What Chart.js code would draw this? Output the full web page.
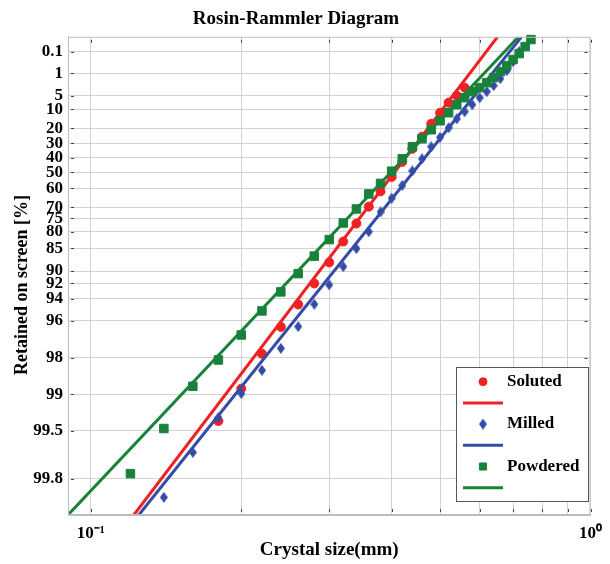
<!DOCTYPE html>
<html>
<head>
<meta charset="utf-8">
<title>Rosin-Rammler Diagram</title>
<script src="https://cdn.jsdelivr.net/npm/chart.js@4.4.1/dist/chart.umd.min.js"></script>
<style>
    html, body { margin: 0; padding: 0; background: #fff; }
    #wrap { width: 610px; height: 564px; }
</style>
</head>
<body>
<div id="wrap"><canvas id="chart-rr"></canvas></div>
<script>
// crystal size (mm) and retained on screen (%)
var solutedSize = [0.18, 0.20, 0.22, 0.24, 0.26, 0.28, 0.30, 0.32, 0.34, 0.36,
    0.38, 0.40, 0.42, 0.44, 0.46, 0.48, 0.50, 0.52, 0.54, 0.56];
var solutedRetained = [99.40, 98.89, 97.85, 96.44, 94.59, 92.03, 88.32, 83.12, 77.04, 69.77,
    61.79, 52.99, 42.90, 33.77, 25.51, 17.34, 11.51, 7.28, 5.00, 3.05];

var milledSize = [0.14, 0.16, 0.18, 0.20, 0.22, 0.24, 0.26, 0.28, 0.30, 0.32,
    0.34, 0.36, 0.38, 0.40, 0.42, 0.44, 0.46, 0.48, 0.50, 0.52,
    0.54, 0.56, 0.58, 0.60, 0.62, 0.64, 0.66, 0.68, 0.70, 0.72];
var milledRetained = [99.86, 99.67, 99.36, 98.99, 98.43, 97.62, 96.42, 94.56, 92.23, 89.18,
    85.07, 80.00, 72.23, 65.53, 58.27, 49.04, 40.79, 32.35, 25.86, 19.74,
    14.56, 11.04, 8.05, 5.61, 3.95, 2.66, 1.59, 0.797, 0.322, 0.096];

var powderedSize = [0.12, 0.14, 0.16, 0.18, 0.20, 0.22, 0.24, 0.26, 0.28, 0.30,
    0.32, 0.34, 0.36, 0.38, 0.40, 0.42, 0.44, 0.46, 0.48, 0.50,
    0.52, 0.54, 0.56, 0.58, 0.60, 0.62, 0.64, 0.66, 0.68, 0.70,
    0.72, 0.74, 0.76];
var powderedRetained = [99.78, 99.48, 98.84, 98.09, 96.94, 95.20, 93.17, 90.46, 86.94, 82.53,
    76.84, 70.86, 63.20, 57.06, 49.25, 40.79, 32.35, 26.84, 20.97, 15.65,
    11.51, 8.05, 5.61, 3.95, 3.05, 2.15, 1.46, 0.874, 0.491, 0.256,
    0.125, 0.048, 0.016];

// fitted Rosin-Rammler lines (end points)
var solutedFitSize = [0.1219, 0.6516];
var solutedFitRetained = [99.9, 0.01];
var milledFitSize = [0.1247, 0.7278];
var milledFitRetained = [99.9, 0.01];
var powderedFitSize = [0.09, 0.7178];
var powderedFitRetained = [99.9, 0.01];

var retainedTicks = [0.1, 1, 5, 10, 20, 30, 40, 50, 60, 70, 75, 80, 85, 90, 92, 94, 96, 98, 99, 99.5, 99.8];
var sizeTicks = [0.1, 0.2, 0.3, 0.4, 0.5, 0.6, 0.7, 0.8, 0.9, 1];
var sizeTickLabels = ['10\u207B\u00B9', '', '', '', '', '', '', '', '', '10\u2070'];
var retainedRange = [99.9, 0.01];
var sizeRange = [0.09, 1];

(function() {
    var serif = "'Liberation Serif', 'Times New Roman', serif";
    var red = 'rgb(238, 34, 36)';
    var blue = 'rgb(52, 76, 168)';
    var green = 'rgb(24, 130, 58)';
    var gridColor = '#d2d2d2';
    var frameColor = '#bdbdbd';

    // y axis is ln(ln(100/R))
    function rr(r) {
        return Math.log(Math.log(100 / r));
    }

    function points(sizes, retained) {
        return sizes.map(function(s, i) { return { x: s, y: rr(retained[i]) }; });
    }

    function diamond(w, h, color) {
        var c = document.createElement('canvas');
        c.width = w;
        c.height = h;
        var g = c.getContext('2d');
        g.fillStyle = color;
        g.beginPath();
        g.moveTo(w / 2, 0);
        g.lineTo(w, h / 2);
        g.lineTo(w / 2, h);
        g.lineTo(0, h / 2);
        g.closePath();
        g.fill();
        return c;
    }

    function markerSet(label, sizes, retained, color, style, radius) {
        return {
            label: label,
            data: points(sizes, retained),
            pointStyle: style,
            pointRadius: radius,
            pointBackgroundColor: color,
            pointBorderColor: color,
            pointBorderWidth: 1,
            showLine: false,
            clip: false
        };
    }

    function fitSet(sizes, retained, color) {
        return {
            label: '',
            data: points(sizes, retained),
            showLine: true,
            borderColor: color,
            borderWidth: 3,
            pointRadius: 0,
            fill: false
        };
    }

    var datasets = [
        markerSet('Soluted', solutedSize, solutedRetained, red, 'circle', 4.5),
        fitSet(solutedFitSize, solutedFitRetained, red),
        markerSet('Milled', milledSize, milledRetained, blue, diamond(8, 11, blue), 5),
        fitSet(milledFitSize, milledFitRetained, blue),
        markerSet('Powdered', powderedSize, powderedRetained, green, 'rect', 6),
        fitSet(powderedFitSize, powderedFitRetained, green)
    ];
    datasets.forEach(function(ds, i) { ds.order = datasets.length - i; ds.borderColor = ds.borderColor || ds.pointBorderColor; });

    function retainedLabel(v) {
        for (var i = 0; i < retainedTicks.length; i++) {
            if (Math.abs(rr(retainedTicks[i]) - v) < 1e-6) {
                return String(retainedTicks[i]);
            }
        }
        return '';
    }

    // short inner tick marks and the closed box around the plot
    var frame = {
        id: 'frame',
        afterDraw: function(chart) {
            var a = chart.chartArea;
            var ctx = chart.ctx;
            ctx.save();
            ctx.strokeStyle = frameColor;
            ctx.lineWidth = 1;
            ctx.strokeRect(a.left + 0.5, a.top + 0.5, a.right - a.left - 1, a.bottom - a.top - 1);
            ctx.strokeStyle = '#444';
            chart.scales.y.ticks.forEach(function(t) {
                var py = Math.round(chart.scales.y.getPixelForValue(t.value)) + 0.5;
                ctx.beginPath();
                ctx.moveTo(a.left + 3, py); ctx.lineTo(a.left + 6, py);
                ctx.moveTo(a.right - 6, py); ctx.lineTo(a.right - 3, py);
                ctx.stroke();
            });
            chart.scales.x.ticks.forEach(function(t) {
                var px = Math.round(chart.scales.x.getPixelForValue(t.value)) + 0.5;
                ctx.beginPath();
                ctx.moveTo(px, a.bottom - 6); ctx.lineTo(px, a.bottom - 3);
                ctx.moveTo(px, a.top + 3); ctx.lineTo(px, a.top + 6);
                ctx.stroke();
            });
            ctx.restore();
        }
    };

    var yTitle = {
        id: 'yTitle',
        afterDraw: function(chart) {
            var ctx = chart.ctx;
            ctx.save();
            ctx.translate(22, 285);
            ctx.rotate(-Math.PI / 2);
            ctx.font = 'bold 18px ' + serif;
            ctx.fillStyle = '#000';
            ctx.textAlign = 'center';
            ctx.textBaseline = 'middle';
            ctx.fillText('Retained on screen [%]', 0, 0);
            ctx.restore();
        }
    };

    var boxLegend = {
        id: 'boxLegend',
        afterDraw: function(chart) {
            var ctx = chart.ctx;
            var left = 456, top = 367, right = 588, bottom = 501;
            ctx.save();
            ctx.fillStyle = '#fff';
            ctx.fillRect(left, top, right - left, bottom - top);
            ctx.strokeStyle = '#555';
            ctx.lineWidth = 1;
            ctx.strokeRect(left + 0.5, top + 0.5, right - left, bottom - top);
            ctx.font = 'bold 17px ' + serif;
            ctx.textBaseline = 'middle';
            ctx.textAlign = 'left';
            chart.data.datasets.forEach(function(ds, i) {
                var y = top + 14.7 + i * 21.2;
                if (ds.showLine) {
                    ctx.strokeStyle = ds.borderColor;
                    ctx.lineWidth = 3;
                    ctx.beginPath();
                    ctx.moveTo(463, y);
                    ctx.lineTo(503, y);
                    ctx.stroke();
                } else {
                    ctx.fillStyle = ds.pointBackgroundColor;
                    ctx.strokeStyle = ds.pointBackgroundColor;
                    ctx.lineWidth = 1;
                    Chart.helpers.drawPoint(ctx, {
                        pointStyle: ds.pointStyle,
                        radius: ds.pointStyle === 'rect' ? 5 : 4,
                        rotation: 0,
                        borderWidth: 1
                    }, 483, y);
                    ctx.fillStyle = '#000';
                    ctx.fillText(ds.label, 507, y);
                }
            });
            ctx.restore();
        }
    };

    document.addEventListener('DOMContentLoaded', function() {
        Chart.defaults.font.family = serif;
        Chart.defaults.color = '#000';

        new Chart(document.getElementById('chart-rr').getContext('2d'), {
            type: 'scatter',
            data: { datasets: datasets },
            plugins: [frame, yTitle, boxLegend],
            options: {
                responsive: true,
                maintainAspectRatio: false,
                animation: false,
                events: [],
                layout: { padding: { left: 0, right: 18, top: 0, bottom: 0 } },
                plugins: {
                    legend: { display: false },
                    tooltip: { enabled: false },
                    title: {
                        display: true,
                        text: 'Rosin-Rammler Diagram',
                        color: '#000',
                        font: { size: 19, weight: 'bold' },
                        padding: { top: 8, bottom: 6 }
                    }
                },
                scales: {
                    x: {
                        type: 'logarithmic',
                        min: sizeRange[0],
                        max: sizeRange[1],
                        afterFit: function(s) { s.height = 49; },
                        afterBuildTicks: function(s) {
                            s.ticks = sizeTicks.map(function(v) { return { value: v }; });
                        },
                        ticks: {
                            autoSkip: false,
                            maxRotation: 0,
                            padding: 8,
                            font: { size: 17, weight: 'bold' },
                            callback: function(v) {
                                var i = sizeTicks.indexOf(v);
                                return i >= 0 ? sizeTickLabels[i] : '';
                            }
                        },
                        grid: { color: gridColor, drawTicks: false },
                        border: { color: frameColor },
                        title: {
                            display: true,
                            text: 'Crystal size(mm)',
                            font: { size: 19, weight: 'bold' },
                            padding: { top: 0, bottom: 3 }
                        }
                    },
                    y: {
                        type: 'linear',
                        min: rr(retainedRange[0]),
                        max: rr(retainedRange[1]),
                        afterFit: function(s) { s.width = 68; },
                        afterBuildTicks: function(s) {
                            s.ticks = retainedTicks.slice().reverse().map(function(r) { return { value: rr(r) }; });
                        },
                        ticks: {
                            autoSkip: false,
                            padding: 5,
                            font: { size: 17, weight: 'bold' },
                            callback: function(v) { return retainedLabel(v); }
                        },
                        grid: { color: gridColor, drawTicks: false },
                        border: { color: frameColor }
                    }
                }
            }
        });
    });
})();
</script>
</body>
</html>
